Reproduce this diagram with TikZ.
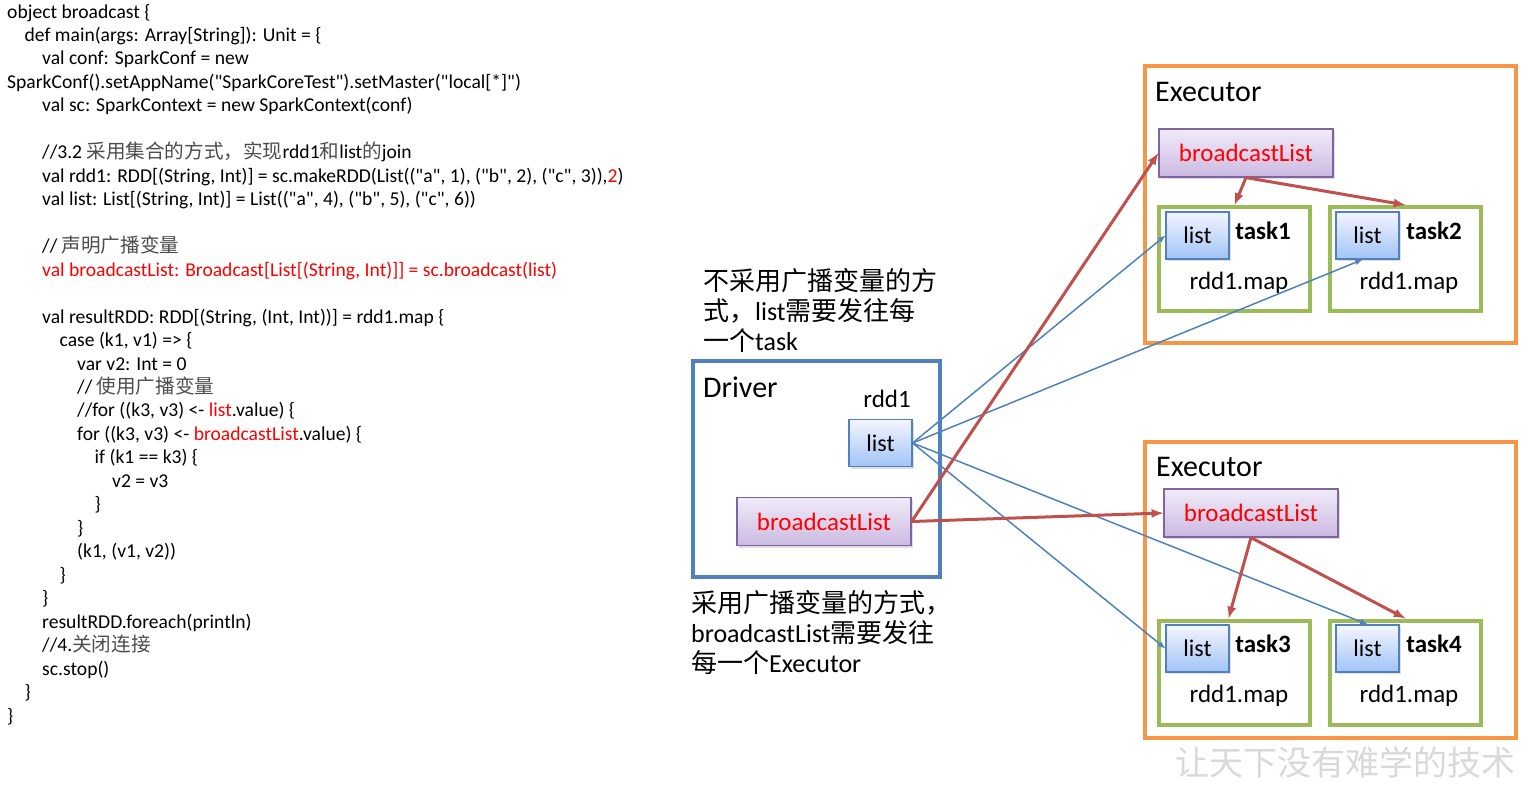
\documentclass[tikz,border=0pt]{standalone}
\usepackage{fontspec}
\setmainfont{Carlito}[Ligatures=TeXReset]
\newfontfamily\cjk{Noto Sans CJK SC}
\usetikzlibrary{shadows}

\definecolor{drvblue}{RGB}{79,129,189}
\definecolor{exorange}{RGB}{247,150,70}
\definecolor{taskgreen}{RGB}{155,187,89}
\definecolor{bcred}{RGB}{192,80,77}
\definecolor{bcpurple}{RGB}{128,100,162}
\definecolor{codered}{RGB}{255,0,0}

\newcommand{\zh}[1]{{\cjk #1}}
\newcommand{\zhc}[1]{{\cjk\color{black!70}#1}}
\newcommand{\codeline}[3]{\node[code] (c#1) at ({7+17.5*#2},{13+23.47*(#1-1)}) {#3};}

\tikzset{
  code/.style={anchor=west,inner sep=0,text height=14,text depth=4,font=\fontsize{19.6}{22}\selectfont},
  txt/.style={inner sep=0,font=\fontsize{25}{30}\selectfont},
  note/.style={inner sep=0,anchor=north west,align=left,font=\fontsize{26}{30}\selectfont},
  title/.style={inner sep=0,anchor=west,font=\fontsize{30}{32}\selectfont},
  drvbox/.style={draw=drvblue,line width=4pt},
  exbox/.style={draw=exorange,line width=4pt},
  taskbox/.style={draw=taskgreen,line width=4pt,minimum width=151,minimum height=104},
  listbox/.style={draw=drvblue,line width=1.2pt,top color=blue!4!white,bottom color={rgb,255:red,160;green,196;blue,245},
    minimum width=63,minimum height=47,font=\fontsize{24}{28}\selectfont,
    drop shadow={shadow xshift=2pt,shadow yshift=-2pt,opacity=0.25}},
  blbox/.style={draw=bcpurple,line width=1.2pt,top color={rgb,255:red,240;green,235;blue,248},bottom color={rgb,255:red,204;green,186;blue,226},
    minimum width=174,minimum height=48,text=codered,font=\fontsize{25}{28}\selectfont,
    drop shadow={shadow xshift=2pt,shadow yshift=-2pt,opacity=0.25}},
  bcast/.style={-latex,draw=bcred,line width=3pt},
  plain/.style={-latex,draw=drvblue,line width=1.5pt}
}

\begin{document}
\begin{tikzpicture}[x=1pt,y=-1pt]
\useasboundingbox (0,0) rectangle (1528,785);

% code on the left
\codeline{1}{0}{object broadcast \{}
\codeline{2}{1}{def main(args: Array[String]): Unit = \{}
\codeline{3}{2}{val conf: SparkConf = new}
\codeline{4}{0}{SparkConf().setAppName("SparkCoreTest").setMaster("local[*]")}
\codeline{5}{2}{val sc: SparkContext = new SparkContext(conf)}
\codeline{7}{2}{//3.2 \zhc{采用集合的方式，实现}rdd1\zhc{和}list\zhc{的}join}
\codeline{8}{2}{val rdd1: RDD[(String, Int)] = sc.makeRDD(List(("a", 1), ("b", 2), ("c", 3)),\textcolor{codered}{2})}
\codeline{9}{2}{val list: List[(String, Int)] = List(("a", 4), ("b", 5), ("c", 6))}
\codeline{11}{2}{// \zhc{声明广播变量}}
\codeline{12}{2}{\textcolor{codered}{val broadcastList: Broadcast[List[(String, Int)]] = sc.broadcast(list)}}
\codeline{14}{2}{val resultRDD: RDD[(String, (Int, Int))] = rdd1.map \{}
\codeline{15}{3}{case (k1, v1) => \{}
\codeline{16}{4}{var v2: Int = 0}
\codeline{17}{4}{// \zhc{使用广播变量}}
\codeline{18}{4}{//for ((k3, v3) <- \textcolor{codered}{list}.value) \{}
\codeline{19}{4}{for ((k3, v3) <- \textcolor{codered}{broadcastList}.value) \{}
\codeline{20}{5}{if (k1 == k3) \{}
\codeline{21}{6}{v2 = v3}
\codeline{22}{5}{\}}
\codeline{23}{4}{\}}
\codeline{24}{4}{(k1, (v1, v2))}
\codeline{25}{3}{\}}
\codeline{26}{2}{\}}
\codeline{27}{2}{resultRDD.foreach(println)}
\codeline{28}{2}{//4.\zhc{关闭连接}}
\codeline{29}{2}{sc.stop()}
\codeline{30}{1}{\}}
\codeline{31}{0}{\}}

% driver
\node[note] (note1) at (703,268) {\zh{不采用广播变量的方}\\\zh{式，}list\zh{需要发往每}\\\zh{一个}task};
\node[drvbox,minimum width=247,minimum height=216] (driver) at (816.5,469) {};
\node[title] (drvname) at (703,387) {Driver};
\node[txt] (rdd) at (887,399) {rdd1};
\node[listbox] (dlist) at (880.5,443) {list};
\node[blbox] (dbl) at (824,521.5) {broadcastList};
\node[note] (note2) at (691,590) {\zh{采用广播变量的方式，}\\broadcastList\zh{需要发往}\\\zh{每一个}Executor};

% executor 1
\node[exbox,minimum width=371,minimum height=277] (ex1) at (1330.5,204.5) {};
\node[title] (ex1name) at (1155,92) {Executor};
\node[blbox] (e1bl) at (1246,153) {broadcastList};
\node[taskbox] (t1) at (1234.5,259) {};
\node[taskbox] (t2) at (1405.5,259) {};
\node[listbox] (l1) at (1197.5,235.5) {list};
\node[listbox] (l2) at (1367.5,235.5) {list};
\node[txt,font=\bfseries\fontsize{25}{30}\selectfont] (t1name) at (1263,231) {task1};
\node[txt,font=\bfseries\fontsize{25}{30}\selectfont] (t2name) at (1434,231) {task2};
\node[txt] (m1) at (1239,283) {rdd1.map};
\node[txt] (m2) at (1409,283) {rdd1.map};

% executor 2
\node[exbox,minimum width=371,minimum height=296] (ex2) at (1330.5,590) {};
\node[title] (ex2name) at (1156,467) {Executor};
\node[blbox] (e2bl) at (1251,513) {broadcastList};
\node[taskbox] (t3) at (1234.5,672.5) {};
\node[taskbox] (t4) at (1405.5,672.5) {};
\node[listbox] (l3) at (1197.5,648.5) {list};
\node[listbox] (l4) at (1367.5,648.5) {list};
\node[txt,font=\bfseries\fontsize{25}{30}\selectfont] (t3name) at (1263,644) {task3};
\node[txt,font=\bfseries\fontsize{25}{30}\selectfont] (t4name) at (1434,644) {task4};
\node[txt] (m3) at (1239,696) {rdd1.map};
\node[txt] (m4) at (1409,696) {rdd1.map};

% list sent to every task
\draw[plain] (dlist.east) -- (l1.west);
\draw[plain] (dlist.east) -- ([xshift=-5]l2.south);
\draw[plain] (dlist.east) -- (l3.west);
\draw[plain] (dlist.east) -- (l4.north);

% broadcast sent to every executor
\draw[bcast] (dbl.east) -- (e1bl.west);
\draw[bcast] (dbl.east) -- (e2bl.west);
\draw[bcast] (e1bl.south) -- (t1.north);
\draw[bcast] (e1bl.south) -- (t2.north);
\draw[bcast] (e2bl.south) -- ([xshift=-6]t3.north);
\draw[bcast] (e2bl.south) -- (t4.north);

\node[txt,text=black!15,font=\cjk\fontsize{34}{36}\selectfont] (mark) at (1345,762) {让天下没有难学的技术};
\end{tikzpicture}
\end{document}
